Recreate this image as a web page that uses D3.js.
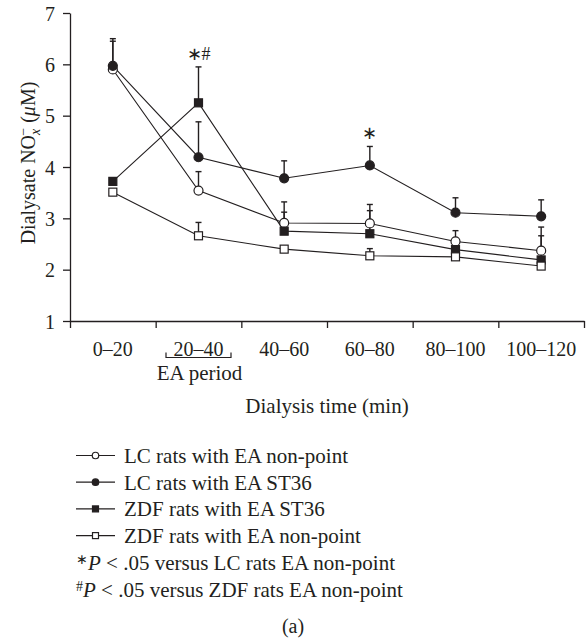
<!DOCTYPE html>
<html>
<head>
<meta charset="utf-8">
<script src="https://cdn.jsdelivr.net/npm/d3@7"></script>
<style>
  html, body { margin: 0; padding: 0; background: #fff; }
  svg { display: block; }
  text { font-family: "Liberation Serif", "Times New Roman", serif; fill: #231f20; }
</style>
</head>
<body>
<svg id="chart" width="587" height="640"></svg>
<script>
// Dialysis time windows (min)
const categories = ["0–20", "20–40", "40–60", "60–80", "80–100", "100–120"];

// Dialysate NOx- (µM), mean and SEM for each group
const lcNonPoint     = [5.90, 3.54, 2.91, 2.90, 2.55, 2.37];
const lcNonPointErr  = [0.55, 0.37, 0.41, 0.37, 0.21, 0.46];
const lcST36         = [5.97, 4.19, 3.78, 4.03, 3.11, 3.04];
const lcST36Err      = [0.53, 0.69, 0.34, 0.37, 0.29, 0.32];
const zdfST36        = [3.72, 5.25, 2.75, 2.70, 2.39, 2.19];
const zdfST36Err     = [0.06, 0.70, 0.37, 0.45, 0.10, 0.47];
const zdfNonPoint    = [3.51, 2.66, 2.40, 2.27, 2.25, 2.07];
const zdfNonPointErr = [0.05, 0.26, 0.05, 0.14, 0.05, 0.05];

const yTicks = [1, 2, 3, 4, 5, 6, 7];

const seriesNames = [
  "LC rats with EA non-point",
  "LC rats with EA ST36",
  "ZDF rats with EA ST36",
  "ZDF rats with EA non-point"
];

// significance labels: category, series index, text
const sigCats   = ["20–40", "60–80"];
const sigSeries = [2, 1];
const sigText   = ["∗#", "∗"];

const series = [
  { name: seriesNames[0], values: lcNonPoint,  err: lcNonPointErr,  shape: "circle", filled: false },
  { name: seriesNames[1], values: lcST36,      err: lcST36Err,      shape: "circle", filled: true  },
  { name: seriesNames[2], values: zdfST36,     err: zdfST36Err,     shape: "square", filled: true  },
  { name: seriesNames[3], values: zdfNonPoint, err: zdfNonPointErr, shape: "square", filled: false }
];

const ink = "#231f20";
const svg = d3.select("#chart");

const plotLeft = 70, plotRight = 584, plotTop = 13, plotBottom = 321;

const x = d3.scaleBand().domain(categories).range([plotLeft, plotRight]).padding(0);
const xEdge = d3.scaleLinear().domain([0, categories.length]).range([plotLeft, plotRight]);
const y = d3.scaleLinear().domain([1, 7]).range([plotBottom, plotTop]);

// y axis
const yAxis = svg.append("g")
  .attr("transform", `translate(${plotLeft},0)`)
  .call(d3.axisLeft(y).tickValues(yTicks).tickSize(7).tickSizeOuter(0).tickPadding(8).tickFormat(d3.format("d")));
yAxis.selectAll("path, line").attr("stroke", ink).attr("stroke-width", 1.3);
yAxis.selectAll("text").attr("font-size", 20).attr("font-family", null).attr("dy", "0.36em");

// x axis line and tick marks at window boundaries
const xAxis = svg.append("g")
  .attr("transform", `translate(0,${plotBottom})`)
  .call(d3.axisBottom(xEdge).tickValues(d3.range(categories.length + 1)).tickSize(7).tickSizeOuter(0).tickFormat(""));
xAxis.selectAll("path, line").attr("stroke", ink).attr("stroke-width", 1.3);

// x category labels centred in each window
const xLabels = svg.append("g")
  .attr("transform", `translate(0,${plotBottom})`)
  .call(d3.axisBottom(x).tickSize(0).tickPadding(21));
xLabels.select(".domain").remove();
xLabels.selectAll("text").attr("font-size", 20).attr("font-family", null);

// EA period bracket under the 20–40 window
const eaX = x("20–40") + x.bandwidth() / 2;
const bw = 32.5;
svg.append("path")
  .attr("d", `M${eaX - bw},352.5 V357.5 H${eaX + bw} V352.5`)
  .attr("fill", "none").attr("stroke", ink).attr("stroke-width", 1.2);
svg.append("text").attr("x", eaX + 1).attr("y", 380)
  .attr("text-anchor", "middle").attr("font-size", 21).text("EA period");

// x axis title
svg.append("text").attr("x", (plotLeft + plotRight) / 2).attr("y", 413)
  .attr("text-anchor", "middle").attr("font-size", 21).text("Dialysis time (min)");

// y axis title
const yt = svg.append("text")
  .attr("transform", "translate(35,163) rotate(-90)")
  .attr("text-anchor", "middle").attr("font-size", 20);
yt.append("tspan").text("Dialysate NO");
yt.append("tspan").attr("font-style", "italic").attr("font-size", 14).attr("dy", 5).text("x");
yt.append("tspan").attr("font-size", 14).attr("dx", -7).attr("dy", -12).text("−");
yt.append("tspan").attr("dy", 7).text(" (");
yt.append("tspan").attr("font-style", "italic").text("μ");
yt.append("tspan").text("M)");

const cx = c => x(c) + x.bandwidth() / 2;

// connecting lines
const line = d3.line().x((d, i) => cx(categories[i])).y(d => y(d));
series.forEach(s => {
  svg.append("path").datum(s.values)
    .attr("d", line).attr("fill", "none").attr("stroke", ink).attr("stroke-width", 1.1);
});

// error bars (upper SEM only)
series.forEach(s => {
  const g = svg.append("g").attr("stroke", ink).attr("stroke-width", 1.4);
  s.values.forEach((v, i) => {
    const px = cx(categories[i]);
    const yTop = y(v + s.err[i]);
    g.append("line").attr("x1", px).attr("x2", px).attr("y1", y(v)).attr("y2", yTop);
    g.append("line").attr("x1", px - 3).attr("x2", px + 3).attr("y1", yTop).attr("y2", yTop);
  });
});

function drawMarker(g, shape, filled, px, py, size) {
  if (shape === "circle") {
    g.append("circle").attr("cx", px).attr("cy", py).attr("r", size / 2)
      .attr("fill", filled ? ink : "#fff").attr("stroke", ink).attr("stroke-width", 1.2);
  } else {
    g.append("rect").attr("x", px - size / 2).attr("y", py - size / 2)
      .attr("width", size).attr("height", size)
      .attr("fill", filled ? ink : "#fff").attr("stroke", ink).attr("stroke-width", 1.2);
  }
}

// markers
series.forEach(s => {
  const g = svg.append("g");
  s.values.forEach((v, i) => drawMarker(g, s.shape, s.filled, cx(categories[i]), y(v), s.shape === "circle" ? 9 : 8));
});

// significance labels above error bars
sigCats.forEach((c, k) => {
  const s = series[sigSeries[k]];
  const i = categories.indexOf(c);
  svg.append("text")
    .attr("x", cx(c)).attr("y", y(s.values[i] + s.err[i]) - 7)
    .attr("text-anchor", "middle").attr("font-size", 18).text(sigText[k]);
});

// legend
const legX = 76, legY = 455.5, rowH = 26.7;
series.forEach((s, k) => {
  const yy = legY + k * rowH;
  const g = svg.append("g");
  g.append("line").attr("x1", legX).attr("x2", legX + 39).attr("y1", yy).attr("y2", yy)
    .attr("stroke", ink).attr("stroke-width", 1.2);
  drawMarker(g, s.shape, s.filled, legX + 19.5, yy, s.shape === "circle" ? 6.5 : 6);
  g.append("text").attr("x", 124).attr("y", yy + 7.5).attr("font-size", 21).text(s.name);
});

const notes = [
  { mark: "∗", text: " versus LC rats EA non-point" },
  { mark: "#", text: " versus ZDF rats EA non-point" }
];
notes.forEach((n, k) => {
  const yy = legY + (4 + k) * rowH + 7.5;
  const t = svg.append("text").attr("x", legX).attr("y", yy).attr("font-size", 21);
  t.append("tspan").attr("font-size", 14).attr("dy", -6).text(n.mark);
  t.append("tspan").attr("dy", 6).attr("font-style", "italic").text("P");
  t.append("tspan").text(" < .05" + n.text);
});

svg.append("text").attr("x", 293).attr("y", 633)
  .attr("text-anchor", "middle").attr("font-size", 20).text("(a)");
</script>
</body>
</html>
